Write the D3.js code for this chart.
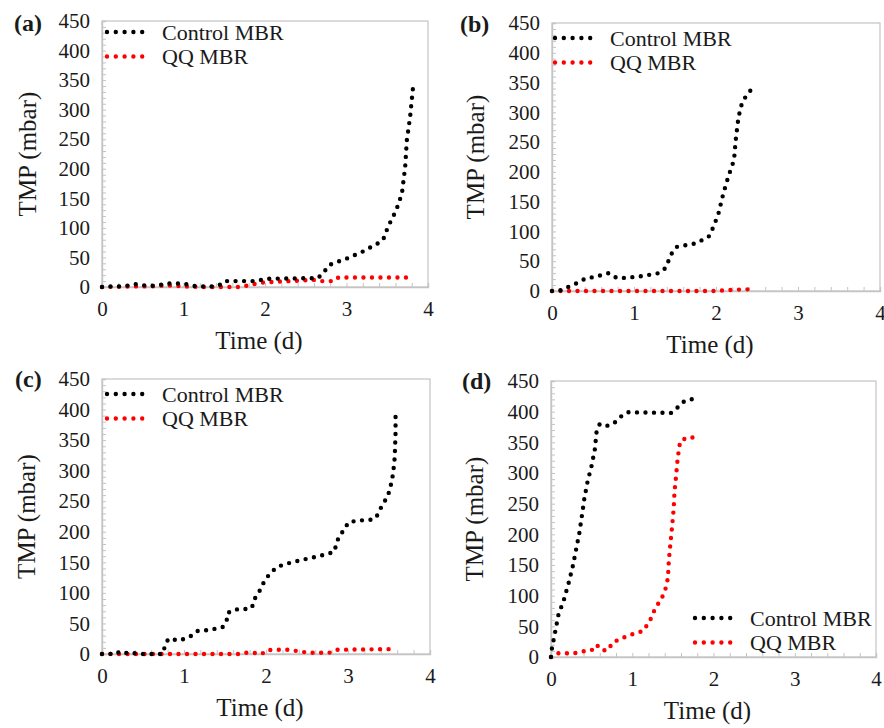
<!DOCTYPE html>
<html>
<head>
<meta charset="utf-8">
<script src="https://cdn.jsdelivr.net/npm/d3@7"></script>
<style>
  body { margin: 0; background: #fff; }
  text { font-family: "Liberation Serif", "Times New Roman", serif; fill: #1a1a1a; }
</style>
</head>
<body>
<svg id="chart" width="884" height="728"></svg>
<script>
// Data: [time (d), TMP (mbar)]
var controlA = [[0,0],[0.1,1],[0.2,1],[0.3,2],[0.4,5],[0.5,3],[0.6,2],[0.7,3],[0.8,6],[0.9,6],[1.0,6],[1.1,2],[1.2,1],[1.35,1],[1.45,4],[1.5,10],[1.9,10],[2.0,14],[2.65,15],[2.72,25],[2.8,38],[3.0,48],[3.2,60],[3.4,75],[3.45,80],[3.51,102],[3.61,130],[3.68,158],[3.72,203],[3.74,248],[3.78,287],[3.8,315],[3.82,343]];
var qqA      = [[0,0],[0.4,1],[0.6,1],[0.8,3],[1.0,1],[1.2,0],[1.7,0],[1.8,3],[1.9,6],[2.0,8],[2.3,10],[2.6,12],[2.7,10],[2.85,10],[2.9,16],[3.8,16]];

var controlB = [[0,0],[0.1,1],[0.2,7],[0.3,13],[0.41,21],[0.53,24],[0.69,30],[0.79,22],[0.89,22],[1.1,25],[1.3,30],[1.38,38],[1.46,63],[1.52,74],[1.75,80],[1.91,91],[1.97,108],[2.03,130],[2.09,164],[2.15,192],[2.22,220],[2.24,253],[2.27,287],[2.3,309],[2.36,326],[2.44,340]];
var qqB      = [[0,0],[2.0,0],[2.2,2],[2.45,3]];

var controlC = [[0,0],[0.1,0],[0.16,4],[0.21,2],[0.26,4],[0.31,1],[0.36,2],[0.45,0],[0.74,0],[0.77,14],[0.81,25],[0.95,22],[1.08,29],[1.17,38],[1.3,39],[1.47,44],[1.52,54],[1.53,67],[1.62,73],[1.73,73],[1.83,76],[1.85,88],[1.91,100],[1.99,122],[2.06,133],[2.13,142],[2.23,147],[2.44,154],[2.64,160],[2.83,167],[2.86,180],[2.89,193],[2.96,204],[3.0,215],[3.1,218],[3.31,220],[3.37,229],[3.41,242],[3.47,255],[3.51,268],[3.55,295],[3.57,322],[3.58,362],[3.58,390]];
var qqC      = [[0,0],[1.7,0],[1.75,2],[1.85,2],[1.95,0],[2.0,6],[2.11,7],[2.25,7],[2.37,5],[2.47,3],[2.57,2],[2.77,2],[2.87,7],[3.55,8]];

var controlD = [[0,0],[0.01,13],[0.05,40],[0.09,68],[0.16,94],[0.22,122],[0.27,149],[0.31,176],[0.35,203],[0.38,230],[0.41,258],[0.45,286],[0.5,312],[0.54,339],[0.56,366],[0.6,380],[0.7,377],[0.79,383],[0.86,392],[0.94,399],[1.48,398],[1.56,407],[1.64,417],[1.75,421]];
var qqD      = [[0,0],[0.07,6],[0.28,6],[0.38,9],[0.5,11],[0.56,20],[0.63,11],[0.7,11],[0.76,24],[0.85,29],[0.95,35],[1.05,39],[1.14,43],[1.19,54],[1.24,65],[1.28,79],[1.34,91],[1.39,103],[1.42,116],[1.44,130],[1.45,157],[1.47,185],[1.49,212],[1.51,242],[1.52,269],[1.54,296],[1.56,325],[1.59,352],[1.68,358],[1.79,358]];

var xTicks = [0, 1, 2, 3, 4];
var yTicks = [0, 50, 100, 150, 200, 250, 300, 350, 400, 450];
var seriesNames = ["Control MBR", "QQ MBR"];
var seriesColors = ["#000000", "#ff0000"];

// Layout of the four panels
var panels = [
  { label: "(a)", left: 102, top: 21, right: 428, bottom: 287, control: controlA, qq: qqA,
    labelX: 14, labelY: 23, legX: 107, legY: 32, titleX: 27 },
  { label: "(b)", left: 552, top: 23, right: 880, bottom: 291, control: controlB, qq: qqB,
    labelX: 460, labelY: 24, legX: 555, legY: 38, titleX: 475 },
  { label: "(c)", left: 102, top: 379, right: 430, bottom: 654, control: controlC, qq: qqC,
    labelX: 15, labelY: 379, legX: 107, legY: 394, titleX: 26 },
  { label: "(d)", left: 551, top: 381, right: 876, bottom: 657, control: controlD, qq: qqD,
    labelX: 462, labelY: 381, legX: 695, legY: 618, titleX: 474 }
];

var svg = d3.select("#chart");
var gray = "#c4c4c4";

panels.forEach(function(p) {
  var x = d3.scaleLinear().domain([0, 4]).range([p.left, p.right]);
  var y = d3.scaleLinear().domain([0, 450]).range([p.bottom, p.top]);
  var g = svg.append("g");

  // plot frame
  g.append("rect")
    .attr("x", p.left).attr("y", p.top)
    .attr("width", p.right - p.left).attr("height", p.bottom - p.top)
    .attr("fill", "none").attr("stroke", gray).attr("stroke-width", 1.2);

  // minor ticks (inside)
  var xMinor = g.append("g").attr("transform", "translate(0," + p.bottom + ")")
    .call(d3.axisBottom(x).tickValues(d3.range(0, 4.001, 0.2)).tickSize(-4).tickFormat(""));
  var yMinor = g.append("g").attr("transform", "translate(" + p.left + ",0)")
    .call(d3.axisLeft(y).tickValues(d3.range(0, 451, 10)).tickSize(-4).tickFormat(""));
  [xMinor, yMinor].forEach(function(a) {
    a.selectAll("line").attr("stroke", gray);
    a.select(".domain").attr("stroke", gray).attr("stroke-width", 1.4);
  });

  // tick labels
  var xAx = g.append("g").attr("transform", "translate(0," + p.bottom + ")")
    .call(d3.axisBottom(x).tickValues(xTicks).tickFormat(d3.format("d")).tickSize(0).tickPadding(14));
  var yAx = g.append("g").attr("transform", "translate(" + p.left + ",0)")
    .call(d3.axisLeft(y).tickValues(yTicks).tickFormat(d3.format("d")).tickSize(0).tickPadding(12));
  [xAx, yAx].forEach(function(a) {
    a.select(".domain").remove();
    a.selectAll("text").style("font-size", "21px").style("font-family", "Liberation Serif").attr("fill", "#1a1a1a");
  });

  // axis titles
  g.append("text")
    .attr("x", (p.left + p.right) / 2 - 6).attr("y", p.bottom + 62)
    .attr("text-anchor", "middle").style("font-size", "25px")
    .text("Time (d)");
  g.append("text")
    .attr("transform", "translate(" + p.titleX + "," + ((p.top + p.bottom) / 2) + ") rotate(-90)")
    .attr("text-anchor", "middle").attr("dy", "0.35em").style("font-size", "25px")
    .text("TMP (mbar)");

  // panel label
  g.append("text")
    .attr("x", p.labelX).attr("y", p.labelY).attr("dy", "0.35em")
    .style("font-size", "24px").style("font-weight", "bold")
    .text(p.label);

  // series as dotted lines
  var line = d3.line().x(function(d) { return x(d[0]); }).y(function(d) { return y(d[1]); });
  [p.qq, p.control].forEach(function(s, i) {
    g.append("path")
      .datum(s)
      .attr("d", line)
      .attr("fill", "none")
      .attr("stroke", i === 0 ? seriesColors[1] : seriesColors[0])
      .attr("stroke-width", 4.4)
      .attr("stroke-linecap", "round")
      .attr("stroke-dasharray", "0 8.5");
  });

  // legend
  seriesNames.forEach(function(name, i) {
    var ly = p.legY + i * 24.5;
    g.append("line")
      .attr("x1", p.legX).attr("x2", p.legX + 44)
      .attr("y1", ly).attr("y2", ly)
      .attr("stroke", seriesColors[i]).attr("stroke-width", 4.4)
      .attr("stroke-linecap", "round").attr("stroke-dasharray", "0 8.8");
    g.append("text")
      .attr("x", p.legX + 55).attr("y", ly).attr("dy", "0.35em")
      .style("font-size", "22px")
      .text(name);
  });
});
</script>
</body>
</html>
